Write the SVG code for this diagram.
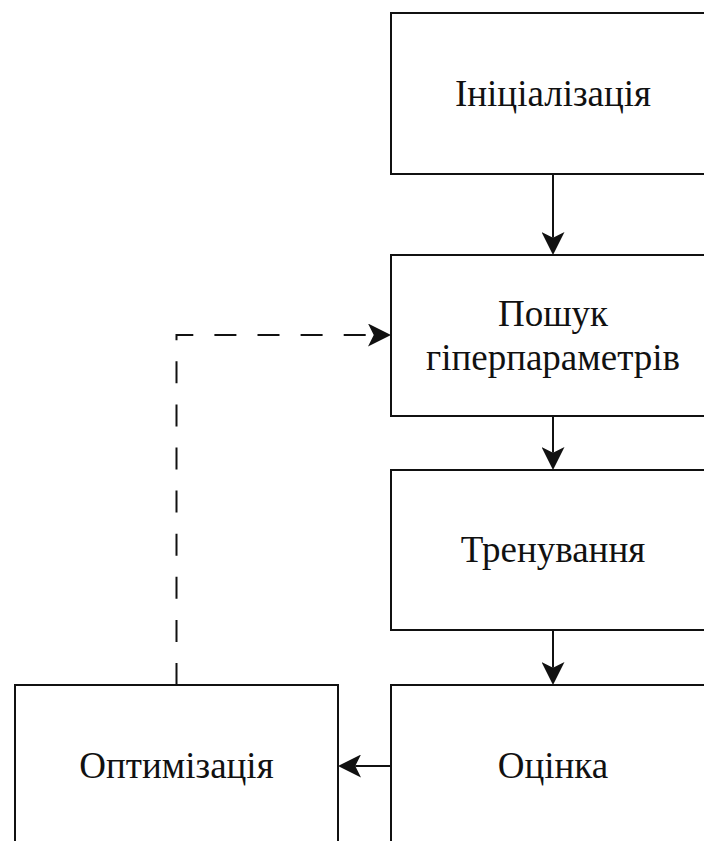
<svg xmlns="http://www.w3.org/2000/svg" width="704" height="841" viewBox="0 0 704 841">
  <style>
    .box { fill: #ffffff; stroke: #111111; stroke-width: 2; }
    .lbl { font-family: "Liberation Serif", "Times New Roman", serif; font-size: 37px; fill: #111111; text-anchor: middle; }
    .edge { fill: none; stroke: #111111; stroke-width: 2; }
    .dashed { stroke-dasharray: 22 21.1; }
  </style>
  <defs>
    <!-- filled arrowhead with a notched back; refX sits on the notch so the line stops there -->
    <marker id="arrow" viewBox="0 0 23 23" refX="5.75" refY="11.5" markerWidth="23" markerHeight="23" markerUnits="userSpaceOnUse" orient="auto">
      <path d="M23 11.5 L0 0 L5.75 11.5 L0 23 Z" fill="#111111"/>
    </marker>
  </defs>

  <g id="connectors">
    <line class="edge" x1="553" y1="174" x2="553" y2="237.75" marker-end="url(#arrow)"/>
    <line class="edge" x1="553" y1="416" x2="553" y2="452.75" marker-end="url(#arrow)"/>
    <line class="edge" x1="553" y1="630" x2="553" y2="667.75" marker-end="url(#arrow)"/>
    <line class="edge" x1="391" y1="766" x2="355.25" y2="766" marker-end="url(#arrow)"/>
    <!-- feedback loop from optimisation back to the search step -->
    <path class="edge dashed" d="M176.5 685 V335 H373.75" marker-end="url(#arrow)"/>
  </g>

  <g id="init">
    <rect class="box" x="391" y="13" width="324" height="161"/>
    <text class="lbl" x="553" y="106">Ініціалізація</text>
  </g>

  <g id="search">
    <rect class="box" x="391" y="255" width="324" height="161"/>
    <text class="lbl" x="553" y="326">Пошук</text>
    <text class="lbl" x="553" y="370">гіперпараметрів</text>
  </g>

  <g id="train">
    <rect class="box" x="391" y="470" width="324" height="160"/>
    <text class="lbl" x="553" y="562">Тренування</text>
  </g>

  <g id="eval">
    <rect class="box" x="391" y="685" width="324" height="162"/>
    <text class="lbl" x="553" y="778">Оцінка</text>
  </g>

  <g id="optimize">
    <rect class="box" x="15" y="685" width="323" height="162"/>
    <text class="lbl" x="176.5" y="778">Оптимізація</text>
  </g>
</svg>
